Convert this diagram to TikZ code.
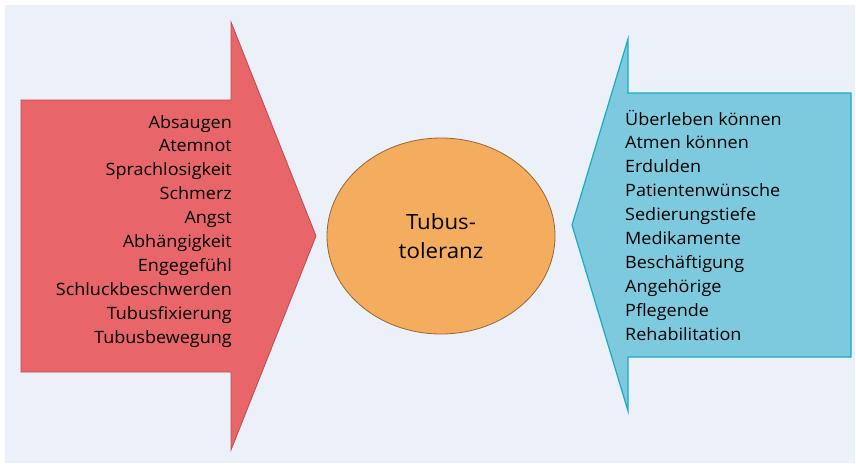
\documentclass[tikz,border=0pt]{standalone}
\usepackage{fontspec}
\setmainfont{Open Sans}[FakeStretch=1.06]
\usetikzlibrary{shapes.geometric}
\definecolor{bgblue}{HTML}{ECF0F9}
\definecolor{redfill}{HTML}{E8666A}
\definecolor{redline}{HTML}{BE4B48}
\definecolor{bluefill}{HTML}{7DC9DD}
\definecolor{blueline}{HTML}{17AACB}
\definecolor{orafill}{HTML}{F4AD5F}
\definecolor{oraline}{HTML}{9A6530}
\tikzset{
  listtext/.style={font=\fontsize{17}{20}\selectfont, inner sep=0pt, text=black},
  redarrow/.style={fill=redfill, draw=redline, line width=0.8pt, line join=miter},
  bluearrow/.style={fill=bluefill, draw=blueline, line width=1.2pt, line join=miter},
  centre/.style={ellipse, fill=orafill, draw=oraline, line width=0.8pt, minimum width=228pt, minimum height=196pt, inner sep=0pt, align=center, text=black, font=\fontsize{21}{29}\selectfont}
}
\begin{document}
\begin{tikzpicture}[x=1pt,y=-1pt]
\useasboundingbox (0,0) rectangle (856,463);
\fill[white] (0,0) rectangle (856,463);
\fill[bgblue] (5,5) rectangle (855,463);
% left (red) arrow
\draw[redarrow] (21,100) -- (231,100) -- (231,22) -- (316,236) -- (231,450) -- (231,372) -- (21,372) -- cycle;
% right (blue) arrow
\draw[bluearrow] (851,93) -- (628,93) -- (628,39) -- (572,225) -- (628,411) -- (628,357) -- (851,357) -- cycle;
% centre
\node[centre] (tol) at (441,236) {Tubus-\\toleranz};
% left texts
\foreach [count=\i] \t in {Absaugen,Atemnot,Sprachlosigkeit,Schmerz,Angst,Abhängigkeit,Engegefühl,Schluckbeschwerden,Tubusfixierung,Tubusbewegung}
  \node[listtext, anchor=base east] (l\i) at (232,{128+23.9*(\i-1)}) {\t};
% right texts
\foreach [count=\i] \t in {Überleben können,Atmen können,Erdulden,Patientenwünsche,Sedierungstiefe,Medikamente,Beschäftigung,Angehörige,Pflegende,Rehabilitation}
  \node[listtext, anchor=base west] (r\i) at (625,{125+23.9*(\i-1)}) {\t};
\end{tikzpicture}
\end{document}
